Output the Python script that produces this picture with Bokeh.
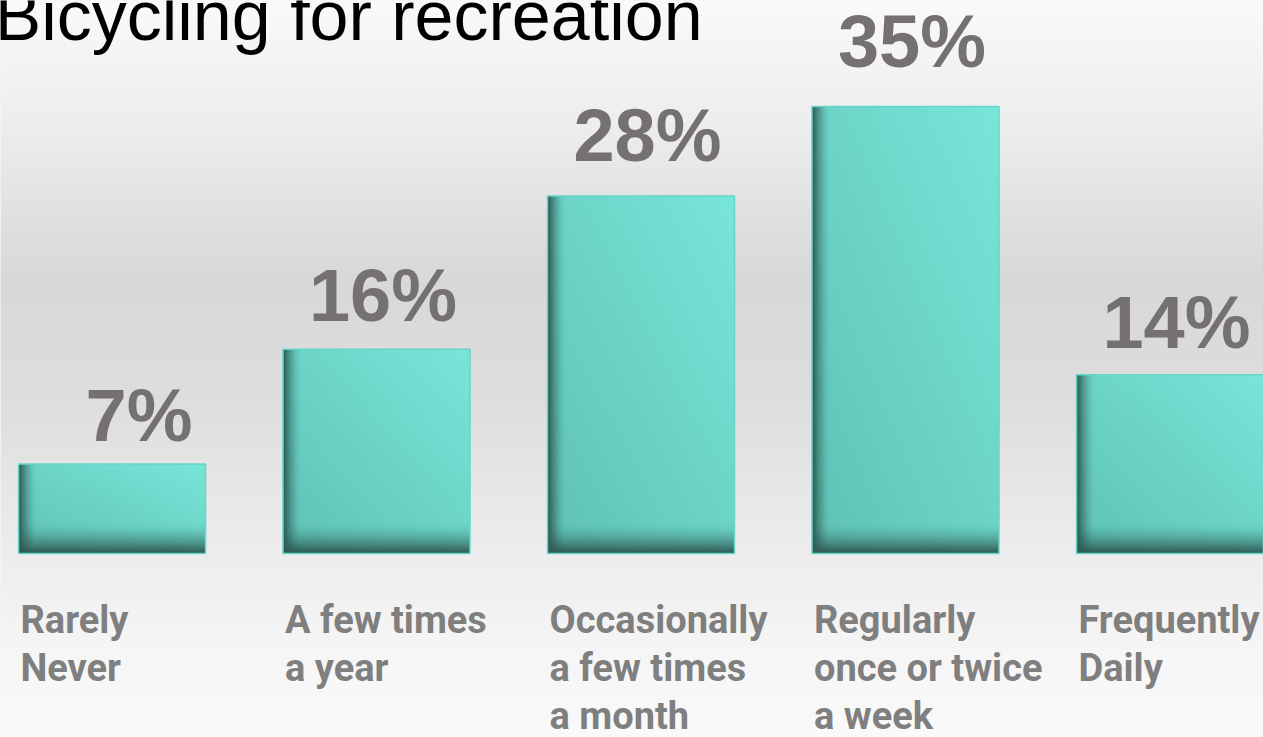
import numpy as np
from bokeh.plotting import figure
from bokeh.models import Range1d
from bokeh.core.properties import value
from bokeh.embed import file_html
from bokeh.resources import INLINE

# ---- data ----
title_text = "Bicycling for recreation"
categories = ["Rarely\nNever", "A few times\na year", "Occasionally\na few times\na month",
              "Regularly\nonce or twice\na week", "Frequently\nDaily"]
percent = [7, 16, 28, 35, 14]
pct_labels = ["7%", "16%", "28%", "35%", "14%"]

# ---- layout constants ----
W, H = 1263, 737
step_px = 264.5          # pixels per category
x0_px = 111.5            # pixel centre of first bar
px_per_pct = 447 / 35.0  # pixels per percent
base_px = 553            # baseline pixel row from top
bar_w = 187 / step_px
BL = 0.385               # empirical alphabetic-baseline correction (em)

x_start = -x0_px / step_px
x_end = (W - x0_px) / step_px
y_end = base_px / px_per_pct
y_start = -(H - base_px) / px_per_pct


def ydata(px_from_top):
    return (base_px - px_from_top) / px_per_pct


p = figure(width=W, height=H, x_range=Range1d(x_start, x_end), y_range=Range1d(y_start, y_end),
           output_backend="svg", toolbar_location=None, min_border=0)
p.axis.visible = False
p.grid.visible = False
p.outline_line_color = None
p.background_fill_color = "#eeeeee"
p.border_fill_color = "#eeeeee"

# ---- background gradient ----
stops_y = [0, 120, 280, 400, 550, 650, 737]
stops_v = [250, 238, 216, 222, 237, 246, 250]
rows = np.arange(H)
g = np.interp(rows, stops_y, stops_v)[::-1]  # row 0 = bottom
bg = np.zeros((H, 1), dtype=np.uint32)
v = bg.view(dtype=np.uint8).reshape((H, 1, 4))
v[:, 0, 0] = g.astype(np.uint8)
v[:, 0, 1] = g.astype(np.uint8)
v[:, 0, 2] = g.astype(np.uint8)
v[:, 0, 3] = 255
p.image_rgba(image=[bg], x=x_start, y=y_start, dw=x_end - x_start, dh=y_end - y_start)

# ---- bars ----
xs = list(range(len(percent)))
p.vbar(x=xs, top=percent, bottom=0, width=bar_w, fill_color="#6cd4c6", line_color=None)

light = np.array([0x78, 0xe6, 0xd9], dtype=float)
darkb = np.array([0x5f, 0xc2, 0xb5], dtype=float)
shadow = np.array([0x2a, 0x50, 0x4b], dtype=float)
wpx = 187
for i, val in enumerate(percent):
    hpx = int(round(val * px_per_pct))
    yy, xx = np.mgrid[0:hpx, 0:wpx].astype(float)  # yy: from bottom
    t = 0.5 * (xx / wpx) + 0.5 * (yy / max(hpx, 1))
    t = np.clip(t, 0, 1)[..., None]
    col = darkb * (1 - t) + light * t
    al = np.clip(1 - xx / 18.0, 0, 1) ** 1.6
    ab = np.clip(1 - yy / 30.0, 0, 1) ** 1.6
    a = 1 - (1 - al) * (1 - ab)
    a = a[..., None] * 0.92
    col = col * (1 - a) + shadow * a
    img = np.zeros((hpx, wpx), dtype=np.uint32)
    vv = img.view(dtype=np.uint8).reshape((hpx, wpx, 4))
    vv[..., :3] = np.clip(col, 0, 255).astype(np.uint8)
    vv[..., 3] = 255
    p.image_rgba(image=[img], x=i - bar_w / 2, y=0, dw=bar_w, dh=val)

p.vbar(x=xs, top=percent, bottom=0, width=bar_w, fill_alpha=0,
       line_color="#66d6c8", line_width=1.5)

# ---- value labels ----
vfs = 74
label_base_px = [537.5 - 13.36 * val for val in percent]
p.text(x=[i + bar_w / 2 - 13 / step_px for i in xs],
       y=[ydata(b - BL * vfs) for b in label_base_px], text=pct_labels,
       text_align="right", text_baseline="alphabetic",
       text_font=value("Liberation Sans"), text_font_style="bold",
       text_font_size=f"{vfs}px", text_color="#767171")

# ---- category labels ----
p.text(x=[i - bar_w / 2 + 2 / step_px for i in xs],
       y=[ydata(597)] * len(xs), text=categories,
       text_align="left", text_baseline="top",
       text_font=value("Roboto"), text_font_style="bold",
       text_font_size="38px", text_color="#7f7f7f", text_line_height=1.1)

# ---- title ----
tfs = 70
p.text(x=[x_start - 6 / step_px], y=[ydata(42 - BL * tfs)], text=[title_text],
       text_align="left", text_baseline="alphabetic",
       text_font=value("Liberation Sans"), text_font_size=f"{tfs}px", text_color="#000000")

open("out.html", "w").write(file_html(p, INLINE))
